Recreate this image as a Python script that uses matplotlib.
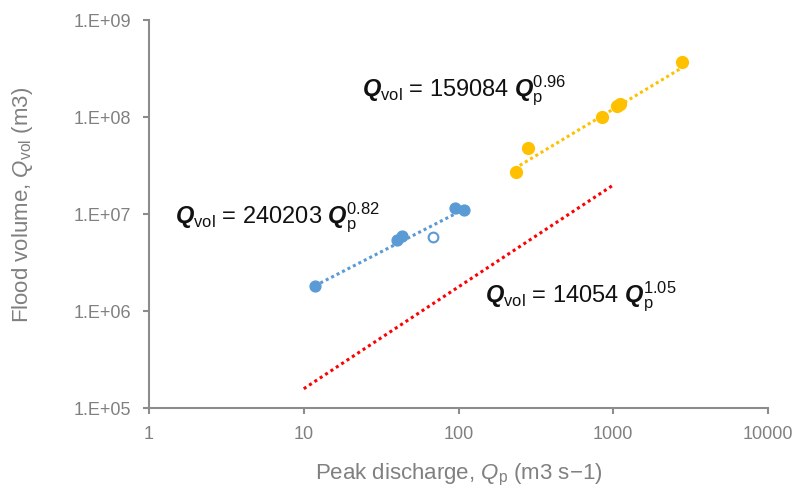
import matplotlib.pyplot as plt
from matplotlib.ticker import FixedLocator, FuncFormatter, NullLocator
import numpy as np

plt.rcParams['font.family'] = ['Liberation Sans', 'DejaVu Sans']
plt.rcParams['mathtext.fontset'] = 'custom'
plt.rcParams['mathtext.rm'] = 'Liberation Sans'
plt.rcParams['mathtext.it'] = 'Liberation Sans:italic'
plt.rcParams['mathtext.bf'] = 'Liberation Sans:bold'
plt.rcParams['mathtext.bfit'] = 'Liberation Sans:italic:bold'

# observed events (peak discharge m3/s, flood volume m3)
blue_x = [11.8, 40, 43, 95, 108]
blue_y = [1.8e6, 5.4e6, 6.0e6, 1.15e7, 1.1e7]
blue_open_x = [68]
blue_open_y = [5.8e6]
yellow_x = [235, 280, 850, 1050, 1100, 2800]
yellow_y = [2.7e7, 4.8e7, 1.0e8, 1.3e8, 1.35e8, 3.7e8]

# trendline end points
blue_fit_x = [11.8, 110]
blue_fit_y = [1.82e6, 1.13e7]
yellow_fit_x = [230, 2790]
yellow_fit_y = [2.94e7, 3.23e8]
red_fit_x = [10, 1000]
red_fit_y = [1.58e5, 1.99e7]

x_ticks = [1, 10, 100, 1000, 10000]
y_ticks = [1e5, 1e6, 1e7, 1e8, 1e9]

blue = '#5B9BD5'
gold = '#FFC000'
red = '#FF0000'
grey = '#8c8c8c'
label_grey = '#808080'

fig = plt.figure(figsize=(7.97, 4.93), dpi=100)
ax = fig.add_axes([0.187, 0.1724, 0.7766, 0.787])

ax.plot(red_fit_x, red_fit_y, color=red, lw=2.2, ls=(0, (1, 1.1)))
ax.plot(blue_fit_x, blue_fit_y, color=blue, lw=2.2, ls=(0, (1, 1)))
ax.plot(yellow_fit_x, yellow_fit_y, color=gold, lw=2.2, ls=(0, (1, 1)))

ax.plot(blue_x, blue_y, 'o', color=blue, ms=7.8, mec=blue)
ax.plot(blue_open_x, blue_open_y, 'o', mfc='white', mec=blue, mew=1.5, ms=7)
ax.plot(yellow_x, yellow_y, 'o', color=gold, ms=8.5, mec=gold)

ax.set_xscale('log')
ax.set_yscale('log')
ax.set_xlim(1, 10000)
ax.set_ylim(1e5, 1e9)
ax.xaxis.set_major_locator(FixedLocator(x_ticks))
ax.yaxis.set_major_locator(FixedLocator(y_ticks))
ax.xaxis.set_minor_locator(NullLocator())
ax.yaxis.set_minor_locator(NullLocator())
ax.xaxis.set_major_formatter(FuncFormatter(lambda v, p: f'{v:.0f}'))
ax.yaxis.set_major_formatter(FuncFormatter(lambda v, p: f'1.E+{int(round(np.log10(v))):02d}'))

for s in ['top', 'right']:
    ax.spines[s].set_visible(False)
for s in ['left', 'bottom']:
    ax.spines[s].set_color(grey)
    ax.spines[s].set_linewidth(1.5)
ax.tick_params(colors=grey, labelcolor=label_grey, labelsize=13, length=4, width=1.5, pad=9)

ax.set_xlabel(r'Peak discharge, $\mathit{Q}_{\mathrm{p}}$ (m3 s$-$1)', fontsize=16, color=label_grey)
ax.set_ylabel(r'Flood volume, $\mathit{Q}_{\mathrm{vol}}$ (m3)', fontsize=16, color=label_grey)
ax.xaxis.set_label_coords(0.5, -0.14)
ax.yaxis.set_label_coords(-0.184, 0.523)

txt = dict(transform=ax.transAxes, fontsize=17, color='#111111', va='baseline', ha='left')
ax.text(0.042, 0.477, r'$\mathbfit{Q}_{\mathrm{vol}}$ = 240203 $\mathbfit{Q}_{\mathrm{p}}^{0.82}$', **txt)
ax.text(0.344, 0.802, r'$\mathbfit{Q}_{\mathrm{vol}}$ = 159084 $\mathbfit{Q}_{\mathrm{p}}^{0.96}$', **txt)
ax.text(0.543, 0.271, r'$\mathbfit{Q}_{\mathrm{vol}}$ = 14054 $\mathbfit{Q}_{\mathrm{p}}^{1.05}$', **txt)

fig.savefig('out.png', dpi=100)
